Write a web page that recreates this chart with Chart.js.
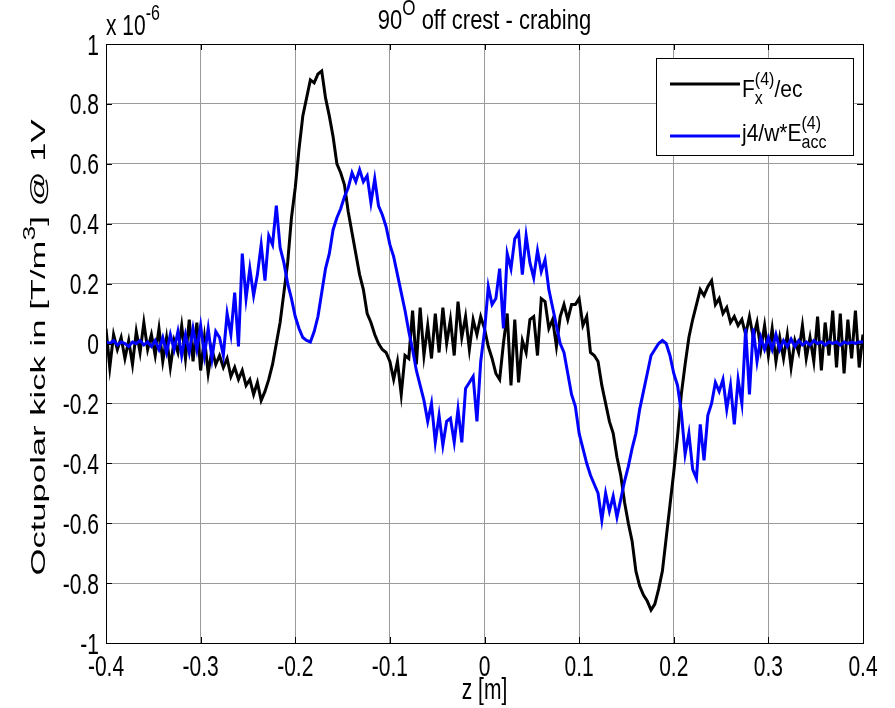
<!DOCTYPE html>
<html><head><meta charset="utf-8">
<script src="https://cdn.jsdelivr.net/npm/chart.js@4.4.0/dist/chart.umd.min.js"></script>
<style>html,body{margin:0;padding:0;background:#fff;}#wrap{width:895px;height:708px;position:relative;}</style>
</head><body><div id="wrap"><canvas id="c" width="895" height="708"></canvas></div>
<script>
// z positions [m]
const zValues = [
-0.400,-0.396,-0.392,-0.388,-0.384,-0.380,-0.376,-0.372,-0.368,-0.364,
-0.360,-0.356,-0.352,-0.348,-0.344,-0.340,-0.336,-0.332,-0.328,-0.324,
-0.320,-0.316,-0.312,-0.308,-0.304,-0.300,-0.296,-0.292,-0.288,-0.284,
-0.280,-0.276,-0.272,-0.268,-0.264,-0.260,-0.256,-0.252,-0.248,-0.244,
-0.240,-0.236,-0.232,-0.228,-0.224,-0.220,-0.216,-0.212,-0.208,-0.204,
-0.200,-0.196,-0.192,-0.188,-0.184,-0.180,-0.176,-0.172,-0.168,-0.164,
-0.160,-0.156,-0.152,-0.148,-0.144,-0.140,-0.136,-0.132,-0.128,-0.124,
-0.120,-0.116,-0.112,-0.108,-0.104,-0.100,-0.096,-0.092,-0.088,-0.084,
-0.080,-0.076,-0.072,-0.068,-0.064,-0.060,-0.056,-0.052,-0.048,-0.044,
-0.040,-0.036,-0.032,-0.028,-0.024,-0.020,-0.016,-0.012,-0.008,-0.004,
0.000,0.004,0.008,0.012,0.016,0.020,0.024,0.028,0.032,0.036,
0.040,0.044,0.048,0.052,0.056,0.060,0.064,0.068,0.072,0.076,
0.080,0.084,0.088,0.092,0.096,0.100,0.104,0.108,0.112,0.116,
0.120,0.124,0.128,0.132,0.136,0.140,0.144,0.148,0.152,0.156,
0.160,0.164,0.168,0.172,0.176,0.180,0.184,0.188,0.192,0.196,
0.200,0.204,0.208,0.212,0.216,0.220,0.224,0.228,0.232,0.236,
0.240,0.244,0.248,0.252,0.256,0.260,0.264,0.268,0.272,0.276,
0.280,0.284,0.288,0.292,0.296,0.300,0.304,0.308,0.312,0.316,
0.320,0.324,0.328,0.332,0.336,0.340,0.344,0.348,0.352,0.356,
0.360,0.364,0.368,0.372,0.376,0.380,0.384,0.388,0.392,0.396,
0.400];
// F_x^(4)/ec  (units of 1e-6)
const fxEc = [
0.05,-0.08,0.03,-0.02,0.02,-0.05,0.01,-0.07,0.04,-0.03,
0.07,-0.02,0.03,-0.04,0.05,-0.06,0.02,-0.08,0.01,-0.03,
0.06,-0.05,0.08,-0.06,0.07,-0.09,0.02,-0.10,-0.02,-0.07,
-0.04,-0.08,-0.05,-0.11,-0.08,-0.12,-0.09,-0.14,-0.12,-0.17,
-0.13,-0.19,-0.16,-0.12,-0.07,0.00,0.07,0.17,0.27,0.42,
0.52,0.65,0.76,0.82,0.88,0.87,0.90,0.91,0.82,0.76,
0.69,0.60,0.57,0.53,0.44,0.37,0.30,0.23,0.18,0.10,
0.07,0.03,0.00,-0.02,-0.03,-0.06,-0.12,-0.06,-0.17,-0.04,
-0.05,0.11,-0.07,0.12,-0.04,0.06,-0.05,0.10,-0.03,0.12,
0.00,0.08,-0.04,0.14,0.02,0.09,-0.02,0.08,0.03,0.09,
0.05,-0.01,-0.05,-0.10,-0.12,0.00,0.10,-0.14,0.08,-0.13,
0.01,-0.03,0.08,0.09,-0.04,0.15,0.14,0.05,0.08,-0.01,
0.09,0.13,0.08,0.13,0.13,0.15,0.06,0.09,-0.03,-0.04,
-0.06,-0.14,-0.20,-0.26,-0.30,-0.38,-0.44,-0.53,-0.60,-0.66,
-0.76,-0.81,-0.84,-0.86,-0.89,-0.87,-0.82,-0.76,-0.65,-0.54,
-0.43,-0.31,-0.17,-0.07,0.02,0.08,0.13,0.18,0.16,0.19,
0.21,0.13,0.15,0.10,0.12,0.07,0.09,0.06,0.08,0.03,
0.09,0.02,0.07,-0.02,0.06,-0.04,0.05,-0.06,0.02,-0.05,
0.03,-0.08,0.01,-0.03,0.06,-0.05,0.02,-0.06,0.09,-0.09,
0.07,-0.04,0.11,-0.08,0.10,-0.10,0.08,-0.05,0.11,-0.08,
0.03];
// j4/w*E_acc^(4)  (units of 1e-6)
const j4wEacc = [
0.005,0.000,0.010,-0.005,0.005,0.000,-0.010,0.005,0.000,0.010,
-0.005,0.005,-0.010,0.010,-0.020,0.020,-0.030,0.030,-0.020,0.040,
-0.040,0.030,-0.030,0.050,-0.020,0.060,-0.040,0.050,-0.050,0.040,
0.020,-0.040,0.100,0.030,0.170,-0.010,0.300,0.150,0.250,0.160,
0.230,0.330,0.210,0.360,0.330,0.460,0.320,0.270,0.200,0.150,
0.090,0.050,0.020,0.010,0.005,0.040,0.090,0.170,0.250,0.300,
0.380,0.420,0.450,0.490,0.520,0.570,0.540,0.580,0.540,0.560,
0.470,0.550,0.460,0.430,0.390,0.330,0.290,0.230,0.170,0.110,
0.040,-0.020,-0.090,-0.140,-0.190,-0.260,-0.200,-0.330,-0.240,-0.340,
-0.260,-0.250,-0.330,-0.220,-0.330,-0.150,-0.130,-0.110,-0.260,-0.060,
0.040,0.190,0.130,0.150,0.250,0.050,0.300,0.250,0.350,0.370,
0.230,0.360,0.270,0.220,0.310,0.240,0.280,0.180,0.120,0.060,
0.000,-0.030,-0.100,-0.170,-0.210,-0.300,-0.350,-0.400,-0.440,-0.470,
-0.500,-0.590,-0.500,-0.560,-0.510,-0.580,-0.520,-0.460,-0.410,-0.350,
-0.300,-0.220,-0.160,-0.100,-0.040,-0.020,0.000,0.010,0.000,-0.040,
-0.100,-0.140,-0.230,-0.370,-0.300,-0.420,-0.450,-0.270,-0.390,-0.240,
-0.200,-0.130,-0.160,-0.120,-0.220,-0.140,-0.270,-0.120,-0.200,0.050,
-0.170,0.050,-0.060,0.020,-0.020,0.020,-0.020,0.030,-0.020,0.010,
-0.010,0.015,-0.010,0.010,-0.005,0.005,-0.005,0.010,0.000,0.005,
-0.005,0.005,0.000,0.005,-0.005,0.005,0.000,0.005,0.000,0.005,
0.005];
const xTickValues = [-0.4,-0.3,-0.2,-0.1,0,0.1,0.2,0.3,0.4];
const yTickValues = [-1,-0.8,-0.6,-0.4,-0.2,0,0.2,0.4,0.6,0.8,1];
const seriesNames = ['F', 'j4/w*E'];

const FONT = '"Liberation Sans", Arial, Helvetica, sans-serif';
const FS = 21;     // base font size (horizontal)
const KY = 1.4;    // vertical stretch of text seen in the reference

function fmt(v){ const r = Math.round(v*10)/10; return r === 0 ? '0' : String(r); }

// draws text parts (with super/subscripts) at (x,y) baseline, stretched by (sx,sy)
function rich(ctx, parts, x, y, size, align, sx, sy, rot){
  const small = Math.round(size*0.78);
  const widths = parts.map(p=>{
    if (p.t !== undefined){ ctx.font = size+'px '+FONT; return ctx.measureText(p.t).width; }
    ctx.font = small+'px '+FONT;
    return Math.max(p.sup?ctx.measureText(p.sup).width:0, p.sub?ctx.measureText(p.sub).width:0);
  });
  const total = widths.reduce((a,b)=>a+b,0);
  ctx.save();
  ctx.translate(x, y);
  if (rot) ctx.rotate(rot);
  ctx.scale(sx||1, sy||1);
  let cx = align==='center' ? -total/2 : (align==='right' ? -total : 0);
  ctx.textAlign='left'; ctx.textBaseline='alphabetic'; ctx.fillStyle='#000';
  parts.forEach((p,i)=>{
    if (p.t !== undefined){ ctx.font = size+'px '+FONT; ctx.fillText(p.t, cx, 0); }
    else {
      ctx.font = small+'px '+FONT;
      if (p.sup) ctx.fillText(p.sup, cx, -size*0.5);
      if (p.sub) ctx.fillText(p.sub, cx, size*0.3);
    }
    cx += widths[i];
  });
  ctx.restore();
}

const decor = {
  id:'decor',
  afterDraw(chart){
    const ctx = chart.ctx, ca = chart.chartArea;
    const xs = chart.scales.x, ys = chart.scales.y;
    ctx.save();
    // box
    ctx.strokeStyle='#000'; ctx.lineWidth=1;
    ctx.strokeRect(Math.round(ca.left)+0.5, Math.round(ca.top)+0.5, Math.round(ca.right-ca.left), Math.round(ca.bottom-ca.top));
    // inward ticks
    ctx.beginPath();
    xTickValues.forEach(v=>{
      const px = Math.round(xs.getPixelForValue(v))+0.5;
      ctx.moveTo(px, ca.bottom); ctx.lineTo(px, ca.bottom-6);
      ctx.moveTo(px, ca.top); ctx.lineTo(px, ca.top+6);
    });
    yTickValues.forEach(v=>{
      const py = Math.round(ys.getPixelForValue(v))+0.5;
      ctx.moveTo(ca.left, py); ctx.lineTo(ca.left+6, py);
      ctx.moveTo(ca.right, py); ctx.lineTo(ca.right-6, py);
    });
    ctx.stroke();
    // tick labels
    const capH = 0.716*FS*KY;
    xTickValues.forEach(v=>{ rich(ctx, [{t:fmt(v)}], xs.getPixelForValue(v), ca.bottom+12+capH, FS, 'center', 1, KY); });
    yTickValues.forEach(v=>{ rich(ctx, [{t:fmt(v)}], ca.left-7, ys.getPixelForValue(v)+capH/2, FS, 'right', 1, KY); });
    // exponent
    rich(ctx, [{t:'x 10'},{sup:'-6'}], ca.left, ca.top-9, FS, 'left', 1, KY);
    // title
    rich(ctx, [{t:'90'},{sup:'O'},{t:' off crest - crabing'}], (ca.left+ca.right)/2, 29, 22, 'center', 1, 1.25);
    // x label
    rich(ctx, [{t:'z [m]'}], (ca.left+ca.right)/2, 699, FS, 'center', 1, KY);
    // y label (rotated, stretched along the vertical direction)
    rich(ctx, [{t:'Octupolar kick in [T/m'},{sup:'3'},{t:'] @ 1V'}], 45, (ca.top+ca.bottom)/2 + 4, FS, 'center', 1.65, 1, -Math.PI/2);
    // legend
    ctx.fillStyle='#fff'; ctx.fillRect(656, 58, 197, 97);
    ctx.strokeStyle='#000'; ctx.lineWidth=1; ctx.strokeRect(656.5, 58.5, 197, 97);
    ctx.lineWidth=3;
    ctx.strokeStyle='#000'; ctx.beginPath(); ctx.moveTo(670,84); ctx.lineTo(740,84); ctx.stroke();
    ctx.strokeStyle='#0000ff'; ctx.beginPath(); ctx.moveTo(670,136); ctx.lineTo(740,136); ctx.stroke();
    rich(ctx, [{t:seriesNames[0]},{sup:'(4)',sub:'x'},{t:'/ec'}], 742, 97, 21, 'left', 1, 1.15);
    rich(ctx, [{t:seriesNames[1]},{sup:'(4)',sub:'acc'}], 742, 141, 21, 'left', 1, 1.15);
    ctx.restore();
  }
};

const GRID = '#9a9a9a';
new Chart(document.getElementById('c').getContext('2d'), {
  type:'line',
  data:{ datasets:[
    { label:'F_x^(4)/ec', data: zValues.map((z,i)=>({x:z,y:fxEc[i]})), borderColor:'#000000', borderWidth:3, pointRadius:0, tension:0, fill:false, order:2 },
    { label:'j4/w*E_acc^(4)', data: zValues.map((z,i)=>({x:z,y:j4wEacc[i]})), borderColor:'#0000ff', borderWidth:3, pointRadius:0, tension:0, fill:false, order:1 }
  ]},
  options:{
    responsive:false, animation:false, devicePixelRatio:1,
    layout:{ padding:{ left:46, right:32, top:44, bottom:25 } },
    plugins:{ legend:{display:false}, title:{display:false}, tooltip:{enabled:false} },
    scales:{
      x:{ type:'linear', min:-0.4, max:0.4,
          afterBuildTicks: s=>{ s.ticks = xTickValues.map(v=>({value:v})); },
          ticks:{display:false}, grid:{color:GRID, lineWidth:1, drawTicks:false}, border:{display:false},
          afterFit: s=>{ s.height = 40; } },
      y:{ type:'linear', min:-1, max:1,
          afterBuildTicks: s=>{ s.ticks = yTickValues.map(v=>({value:v})); },
          ticks:{display:false}, grid:{color:GRID, lineWidth:1, drawTicks:false}, border:{display:false},
          afterFit: s=>{ s.width = 60; } }
    }
  },
  plugins:[decor]
});
</script></body></html>
